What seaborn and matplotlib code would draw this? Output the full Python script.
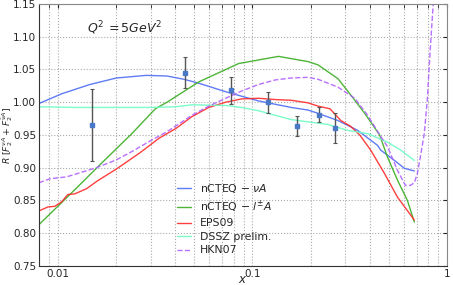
import numpy as np
import pandas as pd
import matplotlib
matplotlib.use("Agg")
import matplotlib.pyplot as plt
import seaborn as sns
from matplotlib.ticker import FixedLocator, FuncFormatter, LogLocator

# nCTEQ - nu A
blue_x = [0.0080, 0.0105, 0.0146, 0.0200, 0.0285, 0.0364, 0.0445, 0.0530, 0.0728,
          0.1073, 0.1581, 0.1931, 0.2172, 0.2747, 0.3474, 0.4395, 0.4552, 0.5366,
          0.6035, 0.6786]
blue_y = [0.998, 1.013, 1.027, 1.037, 1.041, 1.040, 1.035, 1.029, 1.016,
          1.002, 0.992, 0.988, 0.983, 0.972, 0.957, 0.934, 0.927, 0.911,
          0.899, 0.895]

# nCTEQ - l+- A
green_x = [0.0080, 0.0120, 0.0164, 0.0240, 0.0317, 0.0364, 0.0530, 0.0848, 0.1360,
           0.1931, 0.2172, 0.2747, 0.3200, 0.3772, 0.4500, 0.4943, 0.5559, 0.6251,
           0.6786]
green_y = [0.813, 0.864, 0.904, 0.952, 0.990, 1.000, 1.031, 1.059, 1.070,
           1.062, 1.057, 1.036, 1.011, 0.983, 0.950, 0.916, 0.881, 0.850,
           0.817]

# EPS09
red_x = [0.0080, 0.00889, 0.00965, 0.01048, 0.01125, 0.01221, 0.01406, 0.0160,
         0.0200, 0.0262, 0.03314, 0.04046, 0.04886, 0.05965, 0.07281, 0.08788,
         0.1073, 0.1310, 0.1581, 0.1931, 0.2172, 0.2500, 0.2846, 0.3200, 0.3556,
         0.4046, 0.4771, 0.5559, 0.6786]
red_y = [0.834, 0.840, 0.841, 0.848, 0.859, 0.860, 0.868, 0.880,
         0.898, 0.922, 0.945, 0.960, 0.978, 0.992, 1.000, 1.005,
         1.006, 1.004, 1.003, 0.999, 0.994, 0.990, 0.972, 0.963, 0.950,
         0.927, 0.891, 0.855, 0.820]

# DSSZ prelim.
cyan_x = [0.0080, 0.0125, 0.0200, 0.0300, 0.0400, 0.0489, 0.0728, 0.0879, 0.1073,
          0.1310, 0.1581, 0.1931, 0.2441, 0.3090, 0.3908, 0.4943, 0.5757, 0.6786]
cyan_y = [0.993, 0.992, 0.992, 0.992, 0.993, 0.996, 0.995, 0.992, 0.987,
          0.980, 0.9735, 0.970, 0.966, 0.957, 0.952, 0.939, 0.927, 0.911]

# HKN07
purple_x = [0.0080, 0.0091, 0.0111, 0.0158, 0.0200, 0.02414, 0.02947, 0.0364,
            0.04886, 0.05965, 0.07281, 0.08788, 0.1073, 0.1310, 0.1581, 0.1931,
            0.2172, 0.2747, 0.3354, 0.3908, 0.4552, 0.4943, 0.5559, 0.6106,
            0.6475, 0.6786, 0.7030, 0.7281, 0.7633, 0.7907, 0.8188, 0.8483, 0.8685]
purple_y = [0.877, 0.883, 0.886, 0.900, 0.912, 0.925, 0.940, 0.955,
            0.980, 0.994, 1.006, 1.017, 1.027, 1.034, 1.037, 1.038,
            1.035, 1.023, 1.006, 0.980, 0.948, 0.932, 0.896, 0.873,
            0.873, 0.877, 0.891, 0.916, 0.952, 1.003, 1.080, 1.150, 1.200]

# data points with errors
pts_x = [0.015, 0.045, 0.078, 0.12, 0.17, 0.22, 0.265]
pts_y = [0.965, 1.045, 1.018, 1.000, 0.964, 0.981, 0.961]
pts_err = [0.055, 0.024, 0.020, 0.016, 0.015, 0.011, 0.023]

labels = [r"nCTEQ $-$ $\nu A$", r"nCTEQ $-$ $l^{\pm}A$", "EPS09", "DSSZ prelim.", "HKN07"]
colors = ["#4f6df5", "#3aad22", "#ff2a2a", "#6dfcc4", "#b060ff"]

sns.set_style("white")
plt.rcParams["font.family"] = ["DejaVu Sans"]
plt.rcParams["mathtext.fontset"] = "dejavusans"

fig = plt.figure(figsize=(4.53, 2.85), dpi=100)
ax = fig.add_axes([0.086, 0.067, 0.901, 0.919])

curves = [(blue_x, blue_y), (green_x, green_y), (red_x, red_y),
          (cyan_x, cyan_y), (purple_x, purple_y)]
for (cx, cy), lab, col in zip(curves, labels, colors):
    df = pd.DataFrame({"x": cx, "y": cy})
    ls = "--" if lab == "HKN07" else "-"
    sns.lineplot(data=df, x="x", y="y", ax=ax, color=col, lw=1.0, alpha=0.9,
                 linestyle=ls, label=lab, sort=False)

ax.errorbar(pts_x, pts_y, yerr=pts_err, fmt="s", ms=3.2, color="#4a78c8",
            ecolor="#555555", elinewidth=1.0, capsize=1.5, capthick=0.8, zorder=5)

ax.set_xscale("log")
ax.set_xlim(0.008, 1.0)
ax.set_ylim(0.75, 1.15)
ax.set_yticks(np.arange(0.75, 1.151, 0.05))
ax.yaxis.set_major_formatter(FuncFormatter(lambda v, p: f"{v:.2f}"))
ax.xaxis.set_major_locator(FixedLocator([0.01, 0.1, 1.0]))
ax.xaxis.set_minor_locator(LogLocator(base=10, subs=np.arange(2, 10)))
ax.xaxis.set_major_formatter(FuncFormatter(lambda v, p: {0.01: "0.01", 0.1: "0.1", 1.0: "1"}.get(round(v, 3), "")))
ax.xaxis.set_minor_formatter(FuncFormatter(lambda v, p: ""))

ax.grid(True, which="major", ls=":", color="#aaaaaa", lw=0.8)
ax.grid(True, which="minor", axis="x", ls=":", color="#aaaaaa", lw=0.8)
ax.tick_params(axis="both", which="both", direction="in", labelsize=7.5,
               top=True, right=True, length=3, pad=2)
ax.tick_params(axis="y", pad=2)
for s in ax.spines.values():
    s.set_color("#888888")
ax.spines["left"].set_color("#333333")
ax.spines["bottom"].set_color("#333333")

ax.set_xlabel(r"$x$", fontsize=8.5, labelpad=-4)
ax.set_ylabel(r"$R\ [F_2^{\nu A} + F_2^{\bar{\nu} A}]$", fontsize=6.6, va="center")
ax.yaxis.set_label_coords(-0.078, 0.5)
ax.text(0.022, 1.113, r"$Q^2\,{=}5GeV^2$", fontsize=9, ha="center", va="center")

ax.legend(loc="center left", bbox_to_anchor=(0.315, 0.18), frameon=False,
          fontsize=7.8, handlelength=1.3, labelspacing=0.32, handletextpad=0.8)

fig.savefig("out.png", dpi=100)
